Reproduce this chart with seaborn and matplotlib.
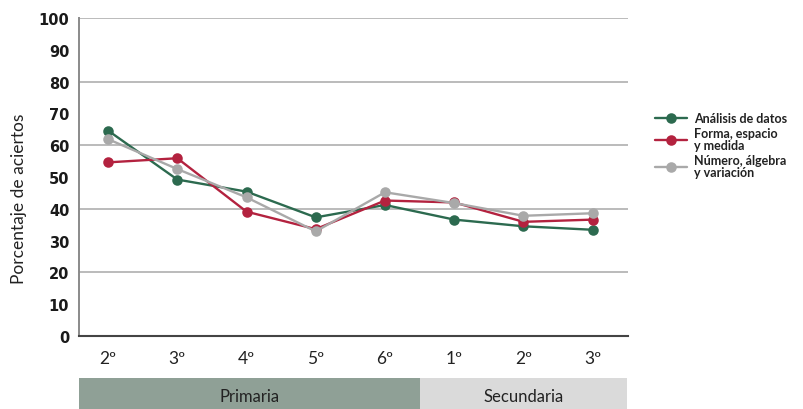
import numpy as np
import pandas as pd
import matplotlib
matplotlib.use('Agg')
import matplotlib.pyplot as plt
import seaborn as sns

sns.set_style('white')
plt.rcParams['font.family'] = ['Lato', 'DejaVu Sans']

grados = ['2º P', '3º P', '4º P', '5º P', '6º P', '1º S', '2º S', '3º S']
etiquetas = ['2º', '3º', '4º', '5º', '6º', '1º', '2º', '3º']
areas = ['Análisis de datos', 'Forma, espacio\ny medida', 'Número, álgebra\ny variación']
analisis = [64.6, 49.2, 45.4, 37.3, 41.2, 36.6, 34.5, 33.4]
forma = [54.6, 55.9, 39.1, 33.6, 42.6, 42.0, 35.9, 36.6]
numero = [61.9, 52.5, 43.6, 32.9, 45.2, 41.8, 37.8, 38.6]
niveles = ['Primaria', 'Secundaria']
n_grados_nivel = [5, 3]
colores = ['#2c6a4f', '#b3223f', '#a9a9a9']
colores_nivel = ['#8fa096', '#dadada']

df = pd.DataFrame({
    'grado': grados * 3,
    'valor': analisis + forma + numero,
    'area': np.repeat(areas, len(grados)),
})

fig = plt.figure(figsize=(8.04, 4.10), dpi=100)
ax = fig.add_axes([79 / 804, 1 - 337 / 410, 549 / 804, 318 / 410])

sns.pointplot(data=df, x='grado', y='valor', hue='area', order=grados, hue_order=areas,
              palette=colores, markers='o', linestyles='-', errorbar=None,
              markersize=6.3, linewidth=1.7, ax=ax)

ax.set_ylim(0, 100)
ax.set_xlim(-0.42, 7.51)
ax.set_yticks(np.arange(0, 101, 10))
for v in range(20, 101, 20):
    ax.axhline(v, color='#a8a8a8', lw=1.1, zorder=0)
ax.set_xticks(range(len(grados)))
ax.set_xticklabels(etiquetas, fontsize=12.5, color='#222222')
ax.tick_params(axis='y', labelsize=10.5, pad=7, length=0, labelcolor='#1a1a1a')
ax.tick_params(axis='x', pad=10, length=0)
for lab in ax.get_yticklabels():
    lab.set_family('DejaVu Sans')
    lab.set_weight('bold')
ax.set_xlabel('')
ax.set_ylabel('Porcentaje de aciertos', fontsize=12.5, color='#222222')
ax.yaxis.set_label_coords(-0.095, 0.434)

for s in ['top', 'right']:
    ax.spines[s].set_visible(False)
ax.spines['left'].set_color('#8a8a8a')
ax.spines['left'].set_linewidth(1.4)
ax.spines['bottom'].set_color('#444444')
ax.spines['bottom'].set_linewidth(1.5)

handles, labels = ax.get_legend_handles_labels()
leg = ax.legend(handles, labels, loc='upper left', bbox_to_anchor=(1.04, 0.72), frameon=False,
                handlelength=2.6, labelspacing=0.25, handletextpad=0.5,
                borderaxespad=0, prop={'weight': 'bold', 'size': 9})
for t in leg.get_texts():
    t.set_linespacing(1.0)
    t.set_color('#222222')

# franja de niveles
bx = fig.add_axes([79 / 804, 0, 549 / 804, 31 / 410])
bx.set_xlim(ax.get_xlim())
bx.set_ylim(0, 1)
inicio = -0.5
for nivel, n, c in zip(niveles, n_grados_nivel, colores_nivel):
    fin = inicio + n
    izq = max(inicio, -0.42)
    der = min(fin, 7.51)
    bx.axvspan(izq, der, color=c, lw=0)
    bx.text((izq + der) / 2, 0.42, nivel, ha='center', va='center', fontsize=12, color='#222222')
    inicio = fin
bx.axis('off')

fig.savefig('out.png', dpi=100)
